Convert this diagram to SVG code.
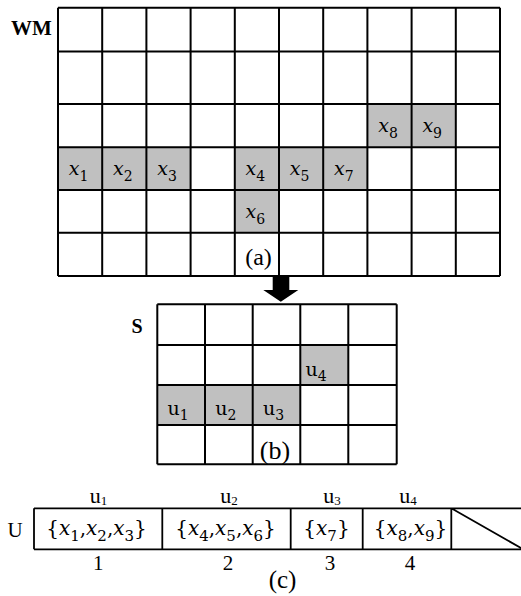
<svg xmlns="http://www.w3.org/2000/svg" width="521" height="596" viewBox="0 0 521 596">
<style>
.ln{stroke:#000;stroke-width:2;fill:none}
.ln2{stroke:#000;stroke-width:1.8;fill:none}
.sh{fill:#c0c0c0}
.m{font-family:"DejaVu Serif",serif;font-size:19px;fill:#000}
.m2{font-size:20px}
.mi{font-style:italic}
.sb{font-size:14px;font-style:normal}
.sb2{font-size:15px;font-style:normal}
.t{font-family:"Liberation Serif","Times New Roman",serif;fill:#000}
.b{font-weight:bold}
</style>
<rect width="521" height="596" fill="#fff"/>

<g id="wm-grid">
  <g id="wm-shaded">
    <rect class="sh" x="367.4" y="104" width="88.4" height="43.3"/>
    <rect class="sh" x="58" y="147.3" width="132.6" height="42.7"/>
    <rect class="sh" x="234.8" y="147.3" width="132.6" height="42.7"/>
    <rect class="sh" x="234.8" y="190" width="44.2" height="42.7"/>
  </g>
  <path class="ln" d="M58 7.7H500M58 51.5H500M58 104H500M58 147.3H500M58 190H500M58 232.7H500M58 276H500
    M58 7.7V276M102.2 7.7V276M146.4 7.7V276M190.6 7.7V276M234.8 7.7V276M279 7.7V276M323.2 7.7V276M367.4 7.7V276M411.6 7.7V276M455.8 7.7V276M500 7.7V276"/>
  <text class="t b" x="11" y="35" font-size="21">WM</text>
  <g class="m" text-anchor="middle">
    <text x="388" y="131.5"><tspan class="mi">x</tspan><tspan class="sb" dy="6">8</tspan></text>
    <text x="432.2" y="131.5"><tspan class="mi">x</tspan><tspan class="sb" dy="6">9</tspan></text>
    <text x="78.6" y="174.8"><tspan class="mi">x</tspan><tspan class="sb" dy="6">1</tspan></text>
    <text x="122.8" y="174.8"><tspan class="mi">x</tspan><tspan class="sb" dy="6">2</tspan></text>
    <text x="167" y="174.8"><tspan class="mi">x</tspan><tspan class="sb" dy="6">3</tspan></text>
    <text x="255.4" y="174.8"><tspan class="mi">x</tspan><tspan class="sb" dy="6">4</tspan></text>
    <text x="299.6" y="174.8"><tspan class="mi">x</tspan><tspan class="sb" dy="6">5</tspan></text>
    <text x="343.8" y="174.8"><tspan class="mi">x</tspan><tspan class="sb" dy="6">7</tspan></text>
    <text x="255.4" y="217.8"><tspan class="mi">x</tspan><tspan class="sb" dy="6">6</tspan></text>
  </g>
  <text class="t" x="258.5" y="264.5" font-size="24" text-anchor="middle">(a)</text>
</g>

<g id="connectors">
  <polygon fill="#000" points="272.7,276 289.3,276 289.3,290 298.3,290 280.8,301.7 263.3,290 272.7,290"/>
</g>

<g id="s-grid">
  <g id="s-shaded">
    <rect class="sh" x="300.3" y="345" width="48" height="40"/>
    <rect class="sh" x="157.3" y="385" width="143" height="40"/>
  </g>
  <path class="ln" d="M157.3 304.3H396.7M157.3 345H396.7M157.3 385H396.7M157.3 425H396.7M157.3 464.3H396.7
    M157.3 304.3V464.3M205 304.3V464.3M252.7 304.3V464.3M300.3 304.3V464.3M348.3 304.3V464.3M396.7 304.3V464.3"/>
  <text class="t b" x="131.5" y="333" font-size="20">S</text>
  <g class="m" text-anchor="middle">
    <text x="316" y="375.5">u<tspan class="sb" dy="5">4</tspan></text>
    <text x="178" y="415">u<tspan class="sb" dy="5">1</tspan></text>
    <text x="225.8" y="415">u<tspan class="sb" dy="5">2</tspan></text>
    <text x="273.5" y="415">u<tspan class="sb" dy="5">3</tspan></text>
  </g>
  <text class="t" x="275" y="458.5" font-size="26" text-anchor="middle">(b)</text>
</g>

<g id="u-array">
  <path class="ln2" d="M34 508.3H521M34 549.3H521M34 508.3V549.3M162.3 508.3V549.3M290.7 508.3V549.3M362.7 508.3V549.3M451.3 508.3V549.3M451.3 508.3L521 548"/>
  <text class="t" x="7.5" y="536.7" font-size="21">U</text>
  <g class="t" font-size="22" text-anchor="middle">
    <text x="98.5" y="503">u<tspan font-size="13" dy="2">1</tspan></text>
    <text x="229" y="503">u<tspan font-size="13" dy="2">2</tspan></text>
    <text x="332" y="503">u<tspan font-size="13" dy="2">3</tspan></text>
    <text x="408" y="503">u<tspan font-size="13" dy="2">4</tspan></text>
  </g>
  <g class="m m2" text-anchor="middle">
    <text x="96.5" y="535">{<tspan class="mi">x</tspan><tspan class="sb2" dy="6">1</tspan><tspan dy="-6">,</tspan><tspan class="mi">x</tspan><tspan class="sb2" dy="6">2</tspan><tspan dy="-6">,</tspan><tspan class="mi">x</tspan><tspan class="sb2" dy="6">3</tspan><tspan dy="-6">}</tspan></text>
    <text x="225.5" y="535">{<tspan class="mi">x</tspan><tspan class="sb2" dy="6">4</tspan><tspan dy="-6">,</tspan><tspan class="mi">x</tspan><tspan class="sb2" dy="6">5</tspan><tspan dy="-6">,</tspan><tspan class="mi">x</tspan><tspan class="sb2" dy="6">6</tspan><tspan dy="-6">}</tspan></text>
    <text x="326.5" y="535">{<tspan class="mi">x</tspan><tspan class="sb2" dy="6">7</tspan><tspan dy="-6">}</tspan></text>
    <text x="410.5" y="535">{<tspan class="mi">x</tspan><tspan class="sb2" dy="6">8</tspan><tspan dy="-6">,</tspan><tspan class="mi">x</tspan><tspan class="sb2" dy="6">9</tspan><tspan dy="-6">}</tspan></text>
  </g>
  <g class="t" font-size="21" text-anchor="middle">
    <text x="98.3" y="570">1</text>
    <text x="228" y="570">2</text>
    <text x="330" y="570">3</text>
    <text x="410" y="570">4</text>
  </g>
  <text class="t" x="282.5" y="588" font-size="25" text-anchor="middle">(c)</text>
</g>
</svg>
